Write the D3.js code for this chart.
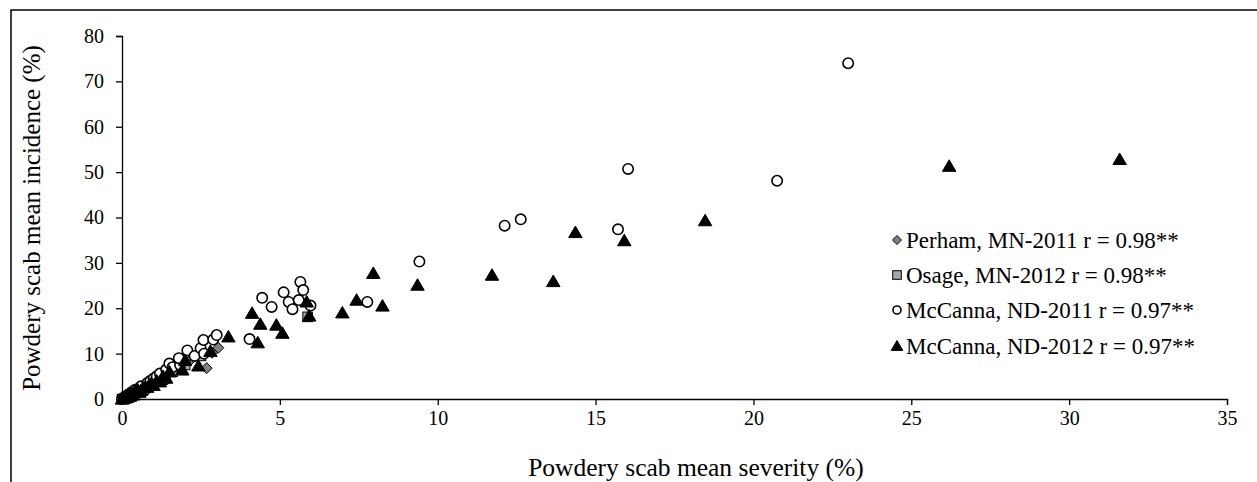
<!DOCTYPE html>
<html>
<head>
<meta charset="utf-8">
<script src="https://cdn.jsdelivr.net/npm/d3@7"></script>
<style>
  html, body { margin: 0; padding: 0; background: #fff; }
  svg { display: block; }
  text { font-family: "Liberation Serif", "Times New Roman", serif; fill: #000; }
</style>
</head>
<body>
<svg id="chart" width="1257" height="482"></svg>
<script>
// Powdery scab: mean severity (%) vs mean incidence (%) by site-year
const xTicks = [0, 5, 10, 15, 20, 25, 30, 35];
const yTicks = [0, 10, 20, 30, 40, 50, 60, 70, 80];

const seriesNames = [
  "Perham, MN-2011 r = 0.98**",
  "Osage, MN-2012 r = 0.98**",
  "McCanna, ND-2011 r = 0.97**",
  "McCanna, ND-2012 r = 0.97**"
];

// [severity, incidence]
const perham2011 = [
  [0, 0], [0.1, 0.4], [0.2, 0.8], [0.35, 1.3], [0.5, 2.0], [0.7, 2.6], [0.9, 3.2],
  [1.2, 4.8], [1.5, 5.8], [1.8, 7.0], [2.2, 8.8], [2.5, 9.8], [2.68, 6.8],
  [2.85, 10.2], [3.05, 11.3]
];
const osage2012 = [
  [0, 0], [0.15, 0.5], [0.3, 1.0], [0.5, 1.8], [0.7, 2.4], [1.0, 3.6], [1.3, 4.6],
  [1.6, 6.0], [2.0, 7.5], [2.5, 9.5], [5.88, 18.1]
];
const mccanna2011 = [
  [0, 0], [0.05, 0.3], [0.1, 0.5], [0.2, 1.0], [0.3, 1.5], [0.4, 2.0], [0.5, 2.2],
  [0.6, 2.8], [0.7, 1.8], [0.8, 3.5], [0.9, 4.0], [1.0, 4.5], [1.1, 5.0], [1.2, 5.6],
  [1.36, 4.3], [1.4, 6.5], [1.5, 7.8], [1.6, 7.0], [1.84, 7.5], [1.8, 9.0],
  [2.07, 10.7], [2.3, 9.5], [2.49, 11.2], [2.6, 10.0], [2.58, 13.0], [2.89, 13.1],
  [3.0, 14.1], [4.04, 13.2], [4.44, 22.3], [4.74, 20.3], [5.12, 23.5], [5.28, 21.4],
  [5.40, 19.8], [5.65, 25.8], [5.74, 24.0], [5.60, 21.8], [5.97, 20.6], [7.77, 21.4],
  [9.42, 30.3], [12.12, 38.2], [12.63, 39.6], [15.71, 37.4], [16.03, 50.7],
  [20.75, 48.1], [23.0, 74.0]
];
const mccanna2012 = [
  [0, 0], [0.05, 0.1], [0.1, 0.5], [0.15, 0.3], [0.2, 0.8], [0.25, 0.6], [0.3, 1.2],
  [0.35, 0.9], [0.4, 1.4], [0.5, 2.0], [0.55, 1.5], [0.6, 1.9], [0.7, 2.5], [0.8, 2.6],
  [0.9, 3.3], [1.0, 3.0], [1.1, 4.0], [1.2, 3.8], [1.3, 5.0], [1.4, 4.6], [1.5, 6.0],
  [1.91, 6.4], [2.0, 8.5], [2.42, 7.3], [2.8, 10.5], [3.37, 13.7], [4.12, 18.9],
  [4.30, 12.4], [4.38, 16.5], [4.89, 16.3], [5.08, 14.5], [5.85, 21.4], [5.93, 18.3],
  [6.98, 19.0], [7.43, 21.8], [7.96, 27.7], [8.25, 20.5], [9.36, 25.1], [11.72, 27.3],
  [13.66, 25.9], [14.36, 36.7], [15.91, 34.9], [18.47, 39.3], [26.2, 51.3], [31.6, 52.8]
];

const svg = d3.select("#chart");

// outer frame
svg.append("rect")
  .attr("x", 11).attr("y", 10)
  .attr("width", 1260).attr("height", 480)
  .attr("fill", "none").attr("stroke", "#000").attr("stroke-width", 1.5);

const x = d3.scaleLinear().domain([0, 35]).range([122, 1227]);
const y = d3.scaleLinear().domain([0, 80]).range([399, 36]);

// axes
const xAxis = svg.append("g")
  .attr("transform", `translate(0,${y(0)})`)
  .call(d3.axisBottom(x).tickValues(xTicks).tickSize(6).tickPadding(6).tickFormat(d3.format("d")));
const yAxis = svg.append("g")
  .attr("transform", `translate(${x(0)},0)`)
  .call(d3.axisLeft(y).tickValues(yTicks).tickSize(6).tickPadding(12).tickFormat(d3.format("d")));

[xAxis, yAxis].forEach(g => {
  g.select(".domain").attr("stroke", "#000").attr("stroke-width", 1.3);
  g.selectAll(".tick line").attr("stroke", "#000").attr("stroke-width", 1.3);
  g.selectAll(".tick text")
    .style("font-family", "'Liberation Serif', 'Times New Roman', serif")
    .style("font-size", "20px").attr("fill", "#000");
});

// axis titles
svg.append("text")
  .attr("x", 696).attr("y", 476)
  .attr("text-anchor", "middle")
  .style("font-size", "25.5px")
  .text("Powdery scab mean severity (%)");
svg.append("text")
  .attr("transform", `translate(40,218) rotate(-90)`)
  .attr("text-anchor", "middle")
  .style("font-size", "25px")
  .text("Powdery scab mean incidence (%)");

// marker drawers
const markers = {
  diamond: (g, s) => g.append("path")
    .attr("d", `M0,${-s}L${s},0L0,${s}L${-s},0Z`)
    .attr("fill", "#808080").attr("stroke", "#000").attr("stroke-width", 1),
  square: (g, s) => g.append("rect")
    .attr("x", -s).attr("y", -s).attr("width", 2 * s).attr("height", 2 * s)
    .attr("fill", "#a6a6a6").attr("stroke", "#000").attr("stroke-width", 1),
  circle: (g, s) => g.append("circle")
    .attr("r", s).attr("fill", "#fff").attr("stroke", "#000").attr("stroke-width", 1.6),
  triangle: (g, s) => g.append("path")
    .attr("d", `M0,${-s}L${s * 1.05},${s * 0.8}L${-s * 1.05},${s * 0.8}Z`)
    .attr("fill", "#000").attr("stroke", "#000").attr("stroke-width", 1)
};

const series = [
  { data: perham2011, shape: "diamond", size: 5.5, legendSize: 4.5 },
  { data: osage2012, shape: "square", size: 4.8, legendSize: 4.3 },
  { data: mccanna2011, shape: "circle", size: 5.2, legendSize: 4 },
  { data: mccanna2012, shape: "triangle", size: 6.4, legendSize: 5.5 }
];

const plot = svg.append("g");
series.forEach(s => {
  plot.append("g").selectAll("g")
    .data(s.data)
    .join("g")
    .attr("transform", d => `translate(${x(d[0])},${y(d[1])})`)
    .each(function () { markers[s.shape](d3.select(this), s.size); });
});

// legend
const legendY = [240, 275, 310, 346];
series.forEach((s, i) => {
  const g = svg.append("g").attr("transform", `translate(897,${legendY[i]})`);
  markers[s.shape](g, s.legendSize);
  g.append("text")
    .attr("x", 9).attr("y", 7.5)
    .style("font-size", "23px")
    .text(seriesNames[i]);
});
</script>
</body>
</html>
